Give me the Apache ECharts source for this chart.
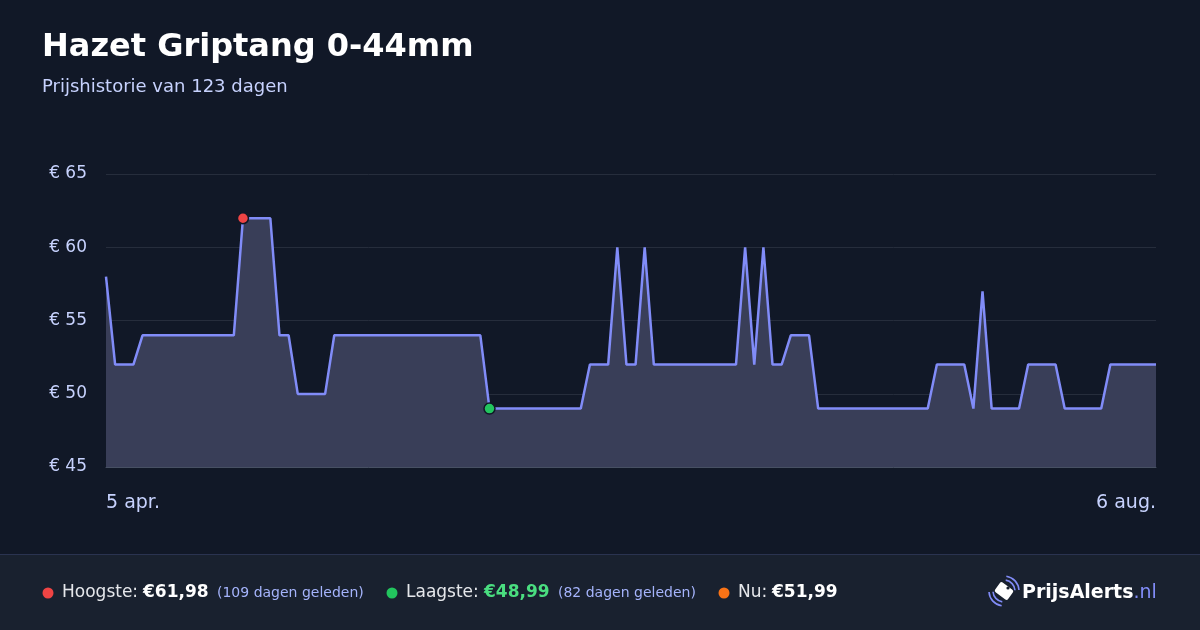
<!DOCTYPE html>
<html>
<head>
<meta charset="utf-8">
<script src="https://cdn.jsdelivr.net/npm/echarts@6/dist/echarts.min.js"></script>
<style>
html,body{margin:0;padding:0;background:#111827;font-family:'DejaVu Sans';}
#c{width:1200px;height:630px;}
</style>
</head>
<body>
<div id="c"></div>
<script>
// ---- data ----
var title = 'Hazet Griptang 0-44mm';
var subtitle = 'Prijshistorie van 123 dagen';
var xTickLabels = ['5 apr.', '6 aug.'];
var yTicks = [45, 50, 55, 60, 65];
var prices = [
  57.99, 51.99, 51.99, 51.99,
  53.99, 53.99, 53.99, 53.99, 53.99, 53.99, 53.99, 53.99, 53.99, 53.99, 53.99,
  61.98, 61.98, 61.98, 61.98,
  53.99, 53.99,
  49.99, 49.99, 49.99, 49.99,
  53.99, 53.99, 53.99, 53.99, 53.99, 53.99, 53.99, 53.99, 53.99, 53.99, 53.99, 53.99, 53.99, 53.99, 53.99, 53.99, 53.99,
  48.99, 48.99, 48.99, 48.99, 48.99, 48.99, 48.99, 48.99, 48.99, 48.99, 48.99,
  51.99, 51.99, 51.99,
  59.99, 51.99, 51.99, 59.99,
  51.99, 51.99, 51.99, 51.99, 51.99, 51.99, 51.99, 51.99, 51.99, 51.99,
  59.99, 51.99, 59.99, 51.99, 51.99,
  53.99, 53.99, 53.99,
  48.99, 48.99, 48.99, 48.99, 48.99, 48.99, 48.99, 48.99, 48.99, 48.99, 48.99, 48.99, 48.99,
  51.99, 51.99, 51.99, 51.99,
  48.99, 56.99,
  48.99, 48.99, 48.99, 48.99,
  51.99, 51.99, 51.99, 51.99,
  48.99, 48.99, 48.99, 48.99, 48.99,
  51.99, 51.99, 51.99, 51.99, 51.99, 51.99
];
var stats = {
  high: '€61,98', highAgo: '(109 dagen geleden)',
  low: '€48,99', lowAgo: '(82 dagen geleden)',
  now: '€51,99'
};

// ---- derived ----
var categories = prices.map(function (_, i) { return i; });
var lastIdx = prices.length - 1;
var maxVal = Math.max.apply(null, prices);
var minVal = Math.min.apply(null, prices);
var maxIdx = prices.indexOf(maxVal);
var minIdx = prices.indexOf(minVal);

var FONT = 'DejaVu Sans';
var chart = echarts.init(document.getElementById('c'), null, {renderer: 'canvas'});

var footerY = 593;
function txt(x, str, size, color, weight) {
  return {type: 'text', x: x, y: footerY, style: {text: str, fill: color, fontFamily: FONT, fontSize: size, fontWeight: weight || 'normal', verticalAlign: 'middle'}};
}
function dot(cx, color) {
  return {type: 'circle', shape: {cx: cx, cy: footerY, r: 5.5}, style: {fill: color}};
}
var arcStyle = {stroke: '#818cf8', lineWidth: 1.6, fill: null};

chart.setOption({
  backgroundColor: '#111827',
  animation: false,
  textStyle: {fontFamily: FONT},
  grid: {left: 106, right: 44, top: 174, bottom: 163},
  xAxis: {
    type: 'category',
    data: categories,
    boundaryGap: false,
    axisLine: {show: true, lineStyle: {color: '#475063', width: 1}},
    axisTick: {show: false},
    splitLine: {show: false},
    axisLabel: {
      margin: 27,
      color: '#c7d2fe',
      fontSize: 19,
      fontFamily: FONT,
      interval: function (i) { return i === 0 || i === lastIdx; },
      alignMinLabel: 'left',
      alignMaxLabel: 'right',
      formatter: function (v, i) { return i === 0 ? xTickLabels[0] : xTickLabels[1]; }
    }
  },
  yAxis: {
    type: 'value',
    min: yTicks[0],
    max: yTicks[yTicks.length - 1],
    interval: 5,
    axisLine: {show: false},
    axisTick: {show: false},
    splitLine: {lineStyle: {color: '#262d3c', width: 1}},
    axisLabel: {
      margin: 19,
      color: '#c7d2fe',
      fontSize: 17,
      fontFamily: FONT,
      formatter: function (v) { return '€ ' + v; }
    }
  },
  series: [
    {
      type: 'line',
      data: prices,
      symbol: 'none',
      lineStyle: {color: '#818cf8', width: 2.5},
      areaStyle: {color: '#393e58', opacity: 1},
      z: 2
    },
    {
      type: 'scatter',
      data: [[maxIdx, maxVal]],
      symbolSize: 11,
      itemStyle: {color: '#ef4444', borderColor: '#111827', borderWidth: 1.5, opacity: 1},
      z: 5
    },
    {
      type: 'scatter',
      data: [[minIdx, minVal]],
      symbolSize: 11,
      itemStyle: {color: '#22c55e', borderColor: '#111827', borderWidth: 1.5, opacity: 1},
      z: 5
    }
  ],
  graphic: [
    {type: 'text', x: 42, y: 48, style: {text: title, fill: '#ffffff', fontFamily: FONT, fontWeight: 'bold', fontSize: 32, verticalAlign: 'middle'}},
    {type: 'text', x: 42, y: 87, style: {text: subtitle, fill: '#c7d2fe', fontFamily: FONT, fontSize: 18, verticalAlign: 'middle'}},
    {type: 'rect', shape: {x: 0, y: 555, width: 1200, height: 75}, style: {fill: '#19212f'}, z: -1},
    {type: 'rect', shape: {x: 0, y: 554, width: 1200, height: 1}, style: {fill: '#2a3350'}, z: -1},
    dot(48, '#ef4444'),
    txt(62, 'Hoogste:', 17, '#e5e7eb'),
    txt(143, stats.high, 17, '#ffffff', 'bold'),
    txt(217, stats.highAgo, 14, '#a5b4fc'),
    dot(392, '#22c55e'),
    txt(406, 'Laagste:', 17, '#e5e7eb'),
    txt(484, stats.low, 17, '#4ade80', 'bold'),
    txt(558, stats.lowAgo, 14, '#a5b4fc'),
    dot(724, '#f97316'),
    txt(738, 'Nu:', 17, '#e5e7eb'),
    txt(772, stats.now, 17, '#ffffff', 'bold'),
    // logo icon
    {type: 'rect', shape: {x: -8, y: -6, width: 16, height: 12, r: 2}, x: 1004, y: 591, rotation: -Math.PI / 5, style: {fill: '#ffffff'}},
    {type: 'circle', shape: {cx: 1008, cy: 588, r: 1.6}, style: {fill: '#19212f'}},
    {type: 'arc', shape: {cx: 1004, cy: 591, r: 11, startAngle: -Math.PI * 0.45, endAngle: -Math.PI * 0.02}, style: arcStyle},
    {type: 'arc', shape: {cx: 1004, cy: 591, r: 15, startAngle: -Math.PI * 0.45, endAngle: -Math.PI * 0.02}, style: arcStyle},
    {type: 'arc', shape: {cx: 1004, cy: 591, r: 11, startAngle: Math.PI * 0.55, endAngle: Math.PI * 0.98}, style: arcStyle},
    {type: 'arc', shape: {cx: 1004, cy: 591, r: 15, startAngle: Math.PI * 0.55, endAngle: Math.PI * 0.98}, style: arcStyle},
    {type: 'text', x: 1022, y: footerY, style: {
      text: '{a|PrijsAlerts}{b|.nl}',
      verticalAlign: 'middle',
      rich: {
        a: {fontFamily: FONT, fontWeight: 'bold', fontSize: 19, fill: '#ffffff', color: '#ffffff'},
        b: {fontFamily: FONT, fontSize: 19, fill: '#818cf8', color: '#818cf8'}
      }
    }}
  ]
});
</script>
</body>
</html>
